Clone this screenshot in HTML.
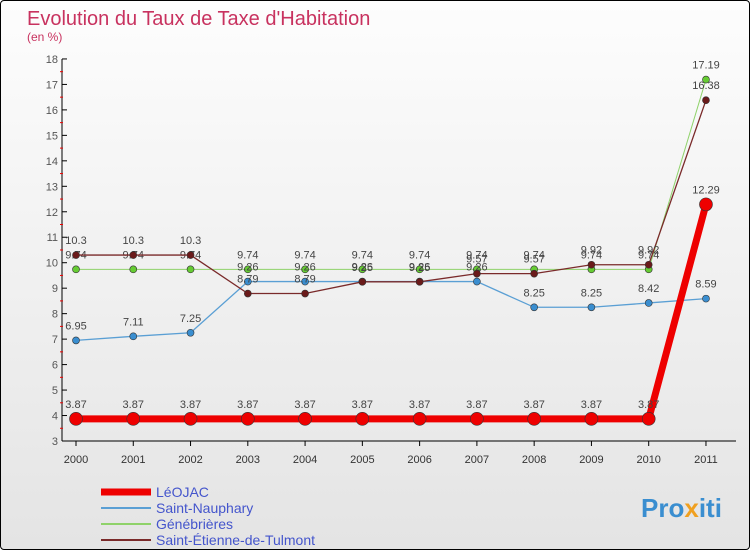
<!DOCTYPE html>
<html><head><meta charset="utf-8"><style>
body{margin:0;width:750px;height:550px;overflow:hidden;font-family:"Liberation Sans",sans-serif}
#wrap{position:absolute;left:0;top:0;width:748px;height:548px;border:1px solid #000;border-radius:4px;background:linear-gradient(#fdfdfd,#e4e4e4)}
</style></head><body>
<div id="wrap">
<svg id="chart" width="748" height="548">
<text x="26" y="24" font-size="20" fill="#c8325f">Evolution du Taux de Taxe d'Habitation</text>
<text x="26" y="40" font-size="12" fill="#c8325f">(en %)</text>
<g id="g"></g>
<text x="640" y="516" font-size="26" font-weight="bold" fill="#3a8ed0">Pro<tspan fill="#f0a020">x</tspan>iti</text>
</svg></div>
<script>
const years=["2000","2001","2002","2003","2004","2005","2006","2007","2008","2009","2010","2011"];
const yTicks=[3,4,5,6,7,8,9,10,11,12,13,14,15,16,17,18];
const seriesNames=["LéOJAC","Saint-Nauphary","Génébrières","Saint-Étienne-de-Tulmont"];
const leojac=[3.87,3.87,3.87,3.87,3.87,3.87,3.87,3.87,3.87,3.87,3.87,12.29];
const nauphary=[6.95,7.11,7.25,9.26,9.26,9.26,9.26,9.26,8.25,8.25,8.42,8.59];
const genebrieres=[9.74,9.74,9.74,9.74,9.74,9.74,9.74,9.74,9.74,9.74,9.74,17.19];
const tulmont=[10.3,10.3,10.3,8.79,8.79,9.25,9.25,9.57,9.57,9.92,9.92,16.38];
const NS="http://www.w3.org/2000/svg",g=document.getElementById('g');
const X=i=>75+i*57.27, Y=v=>440-(v-3)*25.47;
function el(t,a,p){const e=document.createElementNS(NS,t);for(const k in a)e.setAttribute(k,a[k]);(p||g).appendChild(e);return e;}
let e;
e=el('line',{x1:61,y1:Y(18),x2:61,y2:440,stroke:'#000'});


e=el('line',{x1:61,y1:440,x2:735,y2:440,stroke:'#000'});


yTicks.forEach(v=>{
 el('line',{x1:61,y1:Y(v),x2:66,y2:Y(v),stroke:'#000'});
 if(v<18)el('line',{x1:59,y1:Y(v+0.5),x2:62,y2:Y(v+0.5),stroke:'#e00'});
 e=el('text',{x:57,y:Y(v)+4,'font-size':11,fill:'#555','text-anchor':'end'});e.textContent=v;
 
 
});
years.forEach((y,i)=>{
 el('line',{x1:X(i),y1:440,x2:X(i),y2:445,stroke:'#000'});
 e=el('text',{x:X(i),y:462,'font-size':11,fill:'#333','text-anchor':'middle'});e.textContent=y;
 
 
});
function series(data,color,w,r,name,dot){
 e=el('polyline',{points:data.map((v,i)=>X(i)+','+Y(v)).join(' '),fill:'none',stroke:color,'stroke-width':w});
 
 
 data.forEach((v,i)=>{
  e=el('circle',{cx:X(i),cy:Y(v),r:r,fill:dot,stroke:'#333','stroke-width':0.6});
  
  
  e=el('text',{x:X(i),y:Y(v)-11,'font-size':11,fill:'#444','text-anchor':'middle'});e.textContent=String(v);
  
  
 });
}
series(genebrieres,'#8fd26a',1,3.5,'genebrieres','#66cc33');
series(nauphary,'#5a9fd4',1.3,3.5,'saint-nauphary','#3a8ed0');
series(tulmont,'#7a2a2a',1.3,3.5,'saint-etienne-de-tulmont','#6a1a1a');
series(leojac,'#ee0000',7,6.5,'leojac','#ee0000');
const lc=['#ee0000','#5a9fd4','#8fd26a','#7a2a2a'],lw=[7,2,2,2];
seriesNames.forEach((n,i)=>{
 const y=491+i*16;
 e=el('line',{x1:100,y1:y,x2:150,y2:y,stroke:lc[i],'stroke-width':lw[i]});
 
 
 e=el('text',{x:155,y:y+5,'font-size':14,fill:'#4455cc'});e.textContent=n;
 
 
});
</script>
</body></html>
